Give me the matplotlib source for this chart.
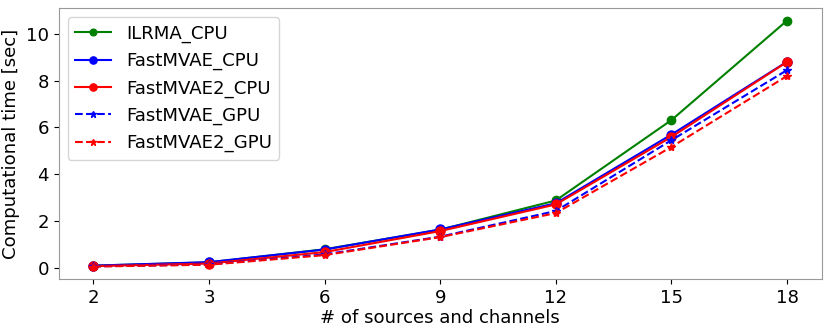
import matplotlib.pyplot as plt
import numpy as np

n_src = ['2', '3', '6', '9', '12', '15', '18']

ilrma_cpu = [0.08, 0.22, 0.78, 1.62, 2.87, 6.31, 10.57]
fastmvae_cpu = [0.08, 0.23, 0.77, 1.63, 2.75, 5.69, 8.81]
fastmvae2_cpu = [0.06, 0.17, 0.66, 1.56, 2.70, 5.59, 8.80]
fastmvae_gpu = [0.05, 0.13, 0.56, 1.32, 2.42, 5.45, 8.45]
fastmvae2_gpu = [0.04, 0.12, 0.53, 1.30, 2.33, 5.16, 8.20]

x = np.arange(len(n_src))

fig, ax = plt.subplots(figsize=(8.3, 3.32), dpi=100)
fig.subplots_adjust(left=0.0707, right=0.990, top=0.975, bottom=0.160)

ax.plot(x, ilrma_cpu, color='green', marker='o', markersize=6, label='ILRMA_CPU')
ax.plot(x, fastmvae_cpu, color='blue', marker='o', markersize=6.5, label='FastMVAE_CPU')
ax.plot(x, fastmvae2_cpu, color='red', marker='o', markersize=6.5, label='FastMVAE2_CPU')
ax.plot(x, fastmvae_gpu, color='blue', ls='--', marker='*', markersize=6, label='FastMVAE_GPU')
ax.plot(x, fastmvae2_gpu, color='red', ls='--', marker='*', markersize=6, label='FastMVAE2_GPU')

ax.set_xticks(x)
ax.set_xticklabels(n_src)
ax.set_yticks([0, 2, 4, 6, 8, 10])
ax.tick_params(labelsize=13.1)
ax.set_xlabel('# of sources and channels', fontsize=13.1, labelpad=2)
ax.set_ylabel('Computational time [sec]', fontsize=13.1)
for s in ax.spines.values():
    s.set_color('#999999')
ax.legend(fontsize=13.1, loc='upper left', markerscale=0.8)

fig.savefig('out.png')
